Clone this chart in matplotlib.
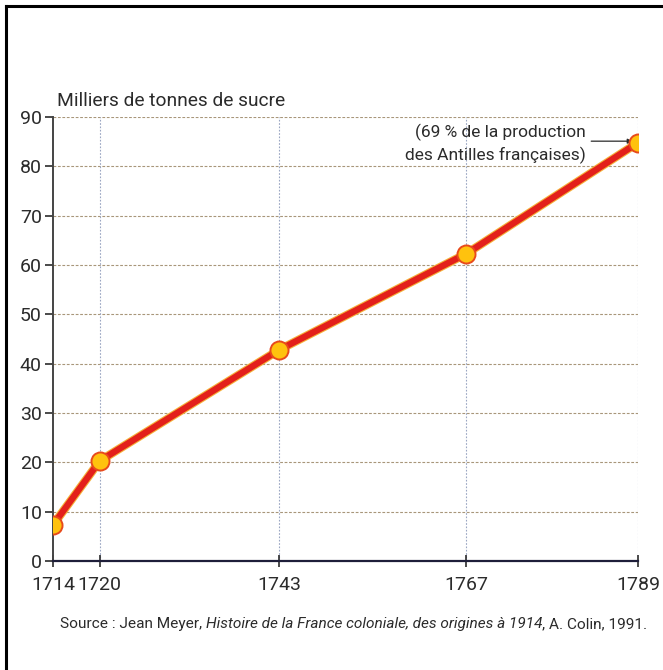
import matplotlib.pyplot as plt
from matplotlib.lines import Line2D

# Data
years = [1714, 1720, 1743, 1767, 1789]
sugar = [7.3, 20.3, 42.8, 62.3, 84.8]
y_ticks = [0, 10, 20, 30, 40, 50, 60, 70, 80, 90]

title = 'Milliers de tonnes de sucre'
note = '(69 % de la production\ndes Antilles françaises)'
source_parts = [
    ('Source : Jean Meyer, ', 'normal'),
    ('Histoire de la France coloniale, des origines à 1914', 'italic'),
    (', A. Colin, 1991.', 'normal'),
]

plt.rcParams['font.family'] = ['Roboto', 'DejaVu Sans']
ink = '#2b2b2b'

fig = plt.figure(figsize=(6.63, 6.70), dpi=100)
ax = fig.add_axes([53 / 663, 109 / 670, 585 / 663, 444 / 670])

# Frame lines around the picture (left and top only)
fig.add_artist(Line2D([6 / 663, 6 / 663], [0, 664 / 670], color='black', lw=2.2))
fig.add_artist(Line2D([6 / 663, 1], [664 / 670, 664 / 670], color='black', lw=2.2))

ax.plot(years, sugar, color='#f5b03a', lw=6.2, solid_capstyle='round', zorder=3)
ax.plot(years, sugar, color='#e3201b', lw=4.6, solid_capstyle='round', zorder=4,
        marker='o', markersize=13, markerfacecolor='#ffc20e',
        markeredgecolor='#e84a1c', markeredgewidth=1.4)

ax.set_xlim(1714, 1789)
ax.set_ylim(0, 90)
ax.set_xticks(years)
ax.set_yticks(y_ticks)
ax.tick_params(axis='both', labelsize=14, colors=ink, width=1.2)
ax.tick_params(axis='y', length=6, direction='out', pad=2)
ax.tick_params(axis='x', length=9, direction='inout', pad=6)

for y in y_ticks[1:]:
    ax.axhline(y, color='#a8967a', lw=0.8, ls=(0, (2.5, 1.5)), zorder=1)
for x in years[1:]:
    ax.axvline(x, color='#9aa6c2', lw=0.8, ls=(0, (1.5, 1.5)), zorder=1)

for side in ['top', 'right']:
    ax.spines[side].set_visible(False)
ax.spines['left'].set_color('#444444')
ax.spines['left'].set_linewidth(1.4)
ax.spines['bottom'].set_color('#1e1e3a')
ax.spines['bottom'].set_linewidth(1.6)

ax.text(0.006, 1.015, title, transform=ax.transAxes, fontsize=13.8,
        color=ink, ha='left', va='bottom')

ax.text(1782.3, 88.6, note, fontsize=12.5, color=ink, ha='right', va='top',
        linespacing=1.45)
ax.annotate('', xy=(1788.3, 85.1), xytext=(1783.0, 85.1),
            arrowprops=dict(arrowstyle='-|>', color=ink, lw=0.9,
                            mutation_scale=7, shrinkA=0, shrinkB=0))

# Source line built from normal and italic pieces, each placed after the previous one
src_y = 42 / 670
for text, style in source_parts:
    fig.text(0, src_y, text, fontsize=11.1, style=style, color=ink, va='baseline')
texts = fig.texts[-len(source_parts):]
fig.canvas.draw()
renderer = fig.canvas.get_renderer()
x = 60
for t in texts:
    t.set_position((x / fig.bbox.width, src_y))
    x = t.get_window_extent(renderer).x1

fig.savefig('out.png', dpi=100)
